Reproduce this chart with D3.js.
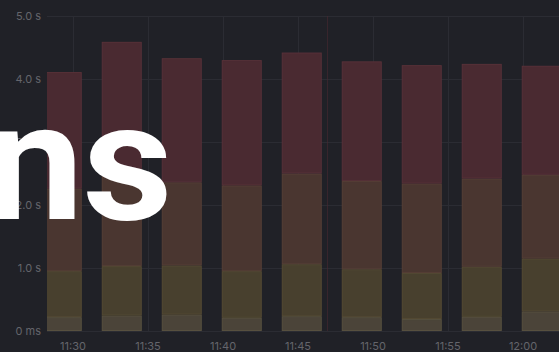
<!DOCTYPE html>
<html>
<head>
<meta charset="utf-8">
<script src="https://cdn.jsdelivr.net/npm/d3@7"></script>
<style>
  html, body { margin: 0; padding: 0; background: #202127; overflow: hidden; }
  svg { display: block; }
  .tick-label { font-family: Inter, "Noto Sans", sans-serif; font-size: 11px; fill: #64656b; }
  .big { font-family: Roboto, Inter, sans-serif; font-weight: 700; font-size: 166px; fill: #ffffff; }
</style>
</head>
<body>
<div id="chart"></div>
<script>
const width = 559,
    height = 352;

// bar centre times (4 min buckets)
const times = ['11:29:15', '11:33:15', '11:37:15', '11:41:15', '11:45:15',
    '11:49:15', '11:53:15', '11:57:15', '12:01:15'];

// stacked series, seconds (bottom -> top)
const seriesNames = ['p50', 'p75', 'p90', 'p99'];
const p50 = [0.22, 0.245, 0.26, 0.21, 0.235, 0.22, 0.19, 0.225, 0.31];
const p75 = [0.73, 0.785, 0.78, 0.74, 0.825, 0.76, 0.73, 0.795, 0.84];
const p90 = [1.31, 1.43, 1.32, 1.36, 1.44, 1.40, 1.42, 1.40, 1.33];
const p99 = [1.85, 2.13, 1.97, 1.99, 1.92, 1.90, 1.88, 1.82, 1.73];

const yTicks = [0, 1, 2, 3, 4, 5];
const yTickLabels = ['0 ms', '1.0 s', '2.0 s', '3.0 s', '4.0 s', '5.0 s'];
const xTickLabels = ['11:30', '11:35', '11:40', '11:45', '11:50', '11:55', '12:00'];
const annotationTime = '11:46:56';

const colors = ['#4b4439', '#48402e', '#4a3630', '#4a2a31'];
const strokes = ['#57503f', '#544a33', '#563f36', '#573138'];

const parse = d3.timeParse('%H:%M:%S');
const parseHM = d3.timeParse('%H:%M');

const plotLeft = 47,
    plotRight = 559,
    plotTop = 16,
    plotBottom = 331;

const x = d3.scaleTime()
    .domain([parse('11:28:16'), parse('12:02:24')])
    .range([plotLeft, plotRight]);

const y = d3.scaleLinear()
    .domain([0, 5])
    .range([plotBottom, plotTop]);

const barWidth = x(parse('11:32:40')) - x(parse('11:30:00'));

const rows = times.map((t, i) => ({
    time: parse(t), p50: p50[i], p75: p75[i], p90: p90[i], p99: p99[i]
}));
const stacked = d3.stack().keys(seriesNames)(rows);

let svg = d3.select('#chart').append('svg')
    .attr('width', width)
    .attr('height', height);

svg.append('rect')
    .attr('width', width)
    .attr('height', height)
    .attr('fill', '#202127');

svg.append('clipPath')
    .attr('id', 'plot-clip')
    .append('rect')
    .attr('x', plotLeft)
    .attr('y', 0)
    .attr('width', plotRight - plotLeft)
    .attr('height', height);

//grid
let grid = svg.append('g').attr('class', 'grid');

grid.selectAll('line.h')
    .data(yTicks)
    .enter().append('line')
    .attr('class', 'h')
    .attr('x1', plotLeft)
    .attr('x2', plotRight)
    .attr('y1', d => y(d) + 0.5)
    .attr('y2', d => y(d) + 0.5)
    .attr('stroke', '#2b2c33');

grid.selectAll('line.v')
    .data(xTickLabels)
    .enter().append('line')
    .attr('class', 'v')
    .attr('x1', d => Math.round(x(parseHM(d))) + 0.5)
    .attr('x2', d => Math.round(x(parseHM(d))) + 0.5)
    .attr('y1', plotTop)
    .attr('y2', plotBottom)
    .attr('stroke', '#2b2c33');

// annotation marker
svg.append('line')
    .attr('x1', Math.round(x(parse(annotationTime))) + 0.5)
    .attr('x2', Math.round(x(parse(annotationTime))) + 0.5)
    .attr('y1', plotTop)
    .attr('y2', plotBottom)
    .attr('stroke', '#4a2830')
    .attr('stroke-opacity', 0.6);

//bars
let bars = svg.append('g')
    .attr('clip-path', 'url(#plot-clip)');

bars.selectAll('g')
    .data(stacked)
    .enter().append('g')
    .attr('fill', (d, i) => colors[i])
    .attr('stroke', (d, i) => strokes[i])
    .selectAll('rect')
    .data(d => d)
    .enter().append('rect')
    .attr('x', d => x(d.data.time) - barWidth / 2 + 0.5)
    .attr('y', d => y(d[1]) + 0.5)
    .attr('width', barWidth - 1)
    .attr('height', d => y(d[0]) - y(d[1]) - 1);

//axes labels
svg.append('g')
    .selectAll('text')
    .data(yTicks)
    .enter().append('text')
    .attr('class', 'tick-label')
    .attr('x', 41)
    .attr('y', d => y(d) + 4)
    .attr('text-anchor', 'end')
    .text((d, i) => yTickLabels[i]);

svg.append('g')
    .selectAll('text')
    .data(xTickLabels)
    .enter().append('text')
    .attr('class', 'tick-label')
    .attr('x', d => x(parseHM(d)))
    .attr('y', 350)
    .attr('text-anchor', 'middle')
    .text(d => d);

// overlay word
svg.append('text')
    .attr('class', 'big')
    .attr('transform', 'translate(-15,219) scale(1.06,1)')
    .attr('letter-spacing', -1)
    .text('ns');
</script>
</body>
</html>
